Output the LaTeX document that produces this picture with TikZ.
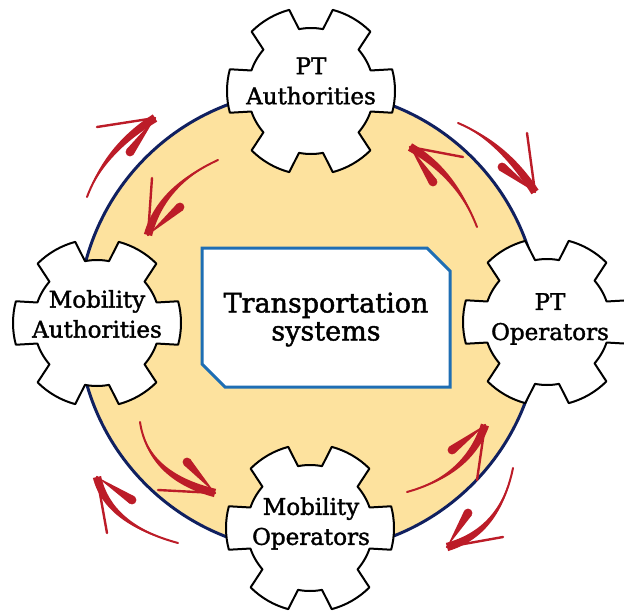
\documentclass[tikz,border=0pt]{standalone}
\usepackage{fontspec}
\setmainfont{DejaVu Serif}
\newfontfamily\labelfont{DejaVu Serif}[FakeBold=1.6]
\usetikzlibrary{calc}
\definecolor{discfill}{RGB}{253,226,158}
\definecolor{discline}{RGB}{16,32,96}
\definecolor{boxblue}{RGB}{30,110,180}
\definecolor{arrowred}{RGB}{188,28,40}
\tikzset{
  gearshape/.style={draw=black, fill=white, line width=2pt, line join=round},
  geartext/.style={align=center, inner sep=0pt, font=\labelfont\fontsize{23}{30}\selectfont},
  centertext/.style={align=center, inner sep=0pt, font=\labelfont\fontsize{27}{28}\selectfont},
  boxline/.style={draw=boxblue, fill=white, line width=3pt, line join=miter},
}
\newcommand{\drawgear}[2]{%
  \draw[gearshape, shift={(#1,#2)}] (-15:84)
    foreach \a in {0,60,...,300}{
      arc[start angle=\a-15, end angle=\a+15, radius=84]
      -- (\a+19:63)
      arc[start angle=\a+19, end angle=\a+41, radius=63]
      -- (\a+45:84)
    } -- cycle;
}
\newcommand{\redarrow}[5]{%
  \coordinate (ra1) at ($(#1)!.667!(#2)$);
  \coordinate (ra2) at ($(#3)!.667!(#2)$);
  \coordinate (raTL) at ($(#3)!4.2pt!90:(ra2)$);
  \coordinate (raTR) at ($(#3)!4.2pt!-90:(ra2)$);
  \coordinate (ra2L) at ($(ra2)!3.6pt!-90:(#3)$);
  \coordinate (ra2R) at ($(ra2)!3.6pt!90:(#3)$);
  \coordinate (ra1L) at ($(ra1)!1.6pt!-90:(#3)$);
  \coordinate (ra1R) at ($(ra1)!1.6pt!90:(#3)$);
  \fill[arrowred] (#1) .. controls (ra1L) and (ra2L) .. (raTL) -- (raTR) .. controls (ra2R) and (ra1R) .. (#1) -- cycle;
  \draw[arrowred, line width=2pt, line cap=round] (#1) .. controls (ra1) and (ra2) .. (#3);
  \draw[arrowred, line width=2.4pt, line cap=round] (#3) -- (#4);
  \fill[arrowred] (#3) -- ($(#5)!4.4pt!90:(#3)$) -- ($(#5)!4.4pt!-90:(#3)$) -- cycle;
  \fill[arrowred] (#5) circle[radius=4.4];
}
\begin{document}
\begin{tikzpicture}[x=1pt,y=-1pt]
\useasboundingbox (0,0) rectangle (624,613);
\clip (0,0) rectangle (624,613);
\fill[white] (0,0) rectangle (624,613);
% disc
\draw[fill=discfill, draw=discline, line width=3pt] (309,321) circle[radius=231];
% arrow coordinates
\coordinate (a1t) at (87,197);  \coordinate (a1c) at (105,149); \coordinate (a1h) at (155,118); \coordinate (a1n) at (97,127);  \coordinate (a1k) at (130,152);
\coordinate (a2t) at (218,160); \coordinate (a2c) at (161,186); \coordinate (a2h) at (148,235); \coordinate (a2n) at (152,178); \coordinate (a2k) at (180,207);
\coordinate (a3t) at (458,123); \coordinate (a3c) at (503,142); \coordinate (a3h) at (535,192); \coordinate (a3n) at (527,133); \coordinate (a3k) at (502,167);
\coordinate (a4t) at (477,227); \coordinate (a4c) at (456,173); \coordinate (a4h) at (410,147); \coordinate (a4n) at (463,157); \coordinate (a4k) at (433,182);
\coordinate (a5t) at (140,422); \coordinate (a5c) at (148,476); \coordinate (a5h) at (215,493); \coordinate (a5n) at (158,490); \coordinate (a5k) at (187,462);
\coordinate (a6t) at (178,543); \coordinate (a6c) at (108,524); \coordinate (a6h) at (97,477);  \coordinate (a6n) at (107,533); \coordinate (a6k) at (132,500);
\coordinate (a7t) at (407,492); \coordinate (a7c) at (468,475); \coordinate (a7h) at (485,425); \coordinate (a7n) at (477,480); \coordinate (a7k) at (452,450);
\coordinate (a8t) at (513,468); \coordinate (a8c) at (500,532); \coordinate (a8h) at (447,547); \coordinate (a8n) at (503,537); \coordinate (a8k) at (468,513);
\redarrow{a1t}{a1c}{a1h}{a1n}{a1k}
\redarrow{a2t}{a2c}{a2h}{a2n}{a2k}
\redarrow{a3t}{a3c}{a3h}{a3n}{a3k}
\redarrow{a4t}{a4c}{a4h}{a4n}{a4k}
\redarrow{a5t}{a5c}{a5h}{a5n}{a5k}
\redarrow{a6t}{a6c}{a6h}{a6n}{a6k}
\redarrow{a7t}{a7c}{a7h}{a7n}{a7k}
\redarrow{a8t}{a8c}{a8h}{a8n}{a8k}
% central box
\draw[boxline] (202,248) -- (427,248) -- (450,271) -- (450,387) -- (225,387) -- (202,364) -- cycle;
\node[centertext] (ts) at (326,319.5) {Transportation\\systems};
% gears
\drawgear{311}{91}
\drawgear{97}{323}
\drawgear{547}{322}
\drawgear{310}{528}
\node[geartext] (pta) at (311,81) {PT\\Authorities};
\node[geartext] (mba) at (97,314) {Mobility\\Authorities};
\node[geartext] (pto) at (550,319) {PT\\Operators};
\node[geartext] (mbo) at (311,523.5) {Mobility\\Operators};
\end{tikzpicture}
\end{document}
